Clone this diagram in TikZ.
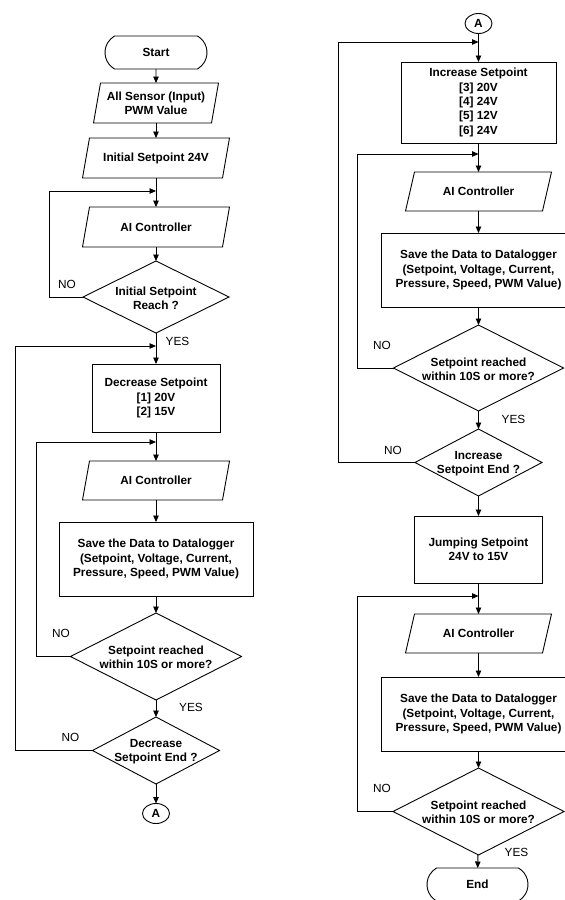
\documentclass[tikz,border=0pt]{standalone}
\usepackage{fontspec}
\setmainfont{Liberation Sans}
\usetikzlibrary{shapes.geometric,shapes.misc,arrows.meta}
\begin{document}
\begin{tikzpicture}[x=1pt,y=-1pt,
  every node/.style={inner sep=0pt, outer sep=0pt},
  base/.style={draw=black, line width=0.9pt},
  txt/.style={font=\fontsize{11.8}{14.3}\selectfont\bfseries, align=center, text=black},
  lbl/.style={font=\fontsize{11.8}{14.3}\selectfont, text=black},
  term/.style={base, rounded rectangle, rounded rectangle arc length=120, minimum width=102, minimum height=33, txt},
  io/.style={rectangle, minimum width=140, minimum height=40, txt},
  proc/.style={base, rectangle, txt},
  decis/.style={base, diamond},
  conn/.style={base, ellipse, minimum width=27, minimum height=20, txt},
  flow/.style={line width=0.9pt, draw=black, -{Triangle[length=6.5pt,width=5.5pt]}},
  fb/.style={line width=0.9pt, draw=black},
]
\useasboundingbox (0,0) rectangle (565,900);
\clip (0,0) rectangle (565,900);
\fill[white] (0,0) rectangle (565,900);

% ---------- left column ----------
\node[term] (start) at (156,52.5) {Start};
\node[io, minimum width=118] (in1) at (156,103) {All Sensor (Input)\\PWM Value};
\node[io] (set1) at (156,158) {Initial Setpoint 24V};
\node[io] (ai1) at (156,227) {AI Controller};
\node[decis, minimum width=146, minimum height=72] (d1) at (156,297) {};
\node[txt] (d1t) at (156,298) {Initial Setpoint\\Reach ?};
\node[proc, minimum width=128, minimum height=68] (decr) at (156,398) {Decrease Setpoint\\{[1]} 20V\\{[2]} 15V};
\node[io, minimum height=39] (ai2) at (156,480.5) {AI Controller};
\node[proc, minimum width=194, minimum height=74] (save1) at (156,559) {Save the Data to Datalogger\\(Setpoint, Voltage, Current,\\Pressure, Speed, PWM Value)};
\node[decis, minimum width=171, minimum height=87] (d2) at (156,656.5) {};
\node[txt] (d2t) at (156,657) {Setpoint reached\\within 10S or more?};
\node[decis, minimum width=127, minimum height=67] (d3) at (156,750.5) {};
\node[txt] (d3t) at (156,751.5) {Decrease\\Setpoint End ?};
\node[conn] (A1) at (156,813.5) {A};

\coordinate (j1) at (156,191);
\coordinate (j2) at (156,346);
\coordinate (j3) at (156,442);

\draw[flow] (start) -- (in1);
\draw[flow] (in1) -- (set1);
\draw[flow] (set1) -- (ai1);
\draw[flow] (ai1) -- (d1);
\draw[flow] (d1) -- (decr);
\draw[flow] (decr) -- (ai2);
\draw[flow] (ai2) -- (save1);
\draw[flow] (save1) -- (d2);
\draw[flow] (d2) -- (d3);
\draw[flow] (d3) -- (A1);

\draw[flow] (d1.west) -| (49,191) -- (j1);
\draw[flow] (d3.west) -| (15,346) -- (j2);
\draw[flow] (d2.west) -| (36,442) -- (j3);

\node[lbl] (no1) at (67,284.5) {NO};
\node[lbl] (yes1) at (177.5,341) {YES};
\node[lbl] (no2) at (61,633) {NO};
\node[lbl] (yes2) at (191,707.5) {YES};
\node[lbl] (no3) at (70.5,737.5) {NO};

% ---------- right column ----------
\node[conn] (A2) at (478.5,23.5) {A};
\node[proc, minimum width=155, minimum height=81] (inc) at (478.5,102.5) {Increase Setpoint\\{[3]} 20V\\{[4]} 24V\\{[5]} 12V\\{[6]} 24V};
\node[io, minimum width=137, minimum height=39] (ai3) at (478.5,191.5) {AI Controller};
\node[proc, minimum width=194, minimum height=74] (save2) at (478.5,270) {Save the Data to Datalogger\\(Setpoint, Voltage, Current,\\Pressure, Speed, PWM Value)};
\node[decis, minimum width=170, minimum height=86] (d4) at (478.5,368) {};
\node[txt] (d4t) at (478.5,369) {Setpoint reached\\within 10S or more?};
\node[decis, minimum width=127, minimum height=67] (d5) at (478.5,462.5) {};
\node[txt] (d5t) at (478.5,463.5) {Increase\\Setpoint End ?};
\node[proc, minimum width=128, minimum height=67] (jump) at (478.5,549.5) {Jumping Setpoint\\24V to 15V};
\node[io, minimum width=137, minimum height=39] (ai4) at (478.5,633.5) {AI Controller};
\node[proc, minimum width=194, minimum height=74] (save3) at (478.5,714) {Save the Data to Datalogger\\(Setpoint, Voltage, Current,\\Pressure, Speed, PWM Value)};
\node[decis, minimum width=171, minimum height=87] (d6) at (478.5,811.5) {};
\node[txt] (d6t) at (478.5,812) {Setpoint reached\\within 10S or more?};
\node[term, minimum width=101] (end) at (477.5,884.5) {End};

% parallelogram outlines
\foreach \n/\s in {in1/3.5, set1/3.5, ai1/3.5, ai2/3.5, ai3/4.5, ai4/4.5}
  \draw[base] ([xshift=\s pt]\n.north west) -- ([xshift=\s pt]\n.north east)
     -- ([xshift=-\s pt]\n.south east) -- ([xshift=-\s pt]\n.south west) -- cycle;

\coordinate (j4) at (478.5,42);
\coordinate (j5) at (478.5,154);
\coordinate (j6) at (478.5,596);

\draw[flow] (A2) -- (inc);
\draw[flow] (inc) -- (ai3);
\draw[flow] (ai3) -- (save2);
\draw[flow] (save2) -- (d4);
\draw[flow] (d4) -- (d5);
\draw[flow] (d5) -- (jump);
\draw[flow] (jump) -- (ai4);
\draw[flow] (ai4) -- (save3);
\draw[flow] (save3) -- (d6);
\draw[flow] (d6) -- (end);

\draw[flow] (d5.west) -| (338,42) -- (j4);
\draw[flow] (d4.west) -| (357,154) -- (j5);
\draw[flow] (d6.west) -| (357,596) -- (j6);

\node[lbl] (no4) at (382,345) {NO};
\node[lbl] (yes4) at (513.5,419) {YES};
\node[lbl] (no5) at (393,450) {NO};
\node[lbl] (no6) at (382,788.5) {NO};
\node[lbl] (yes6) at (516.5,852.5) {YES};
\end{tikzpicture}
\end{document}
